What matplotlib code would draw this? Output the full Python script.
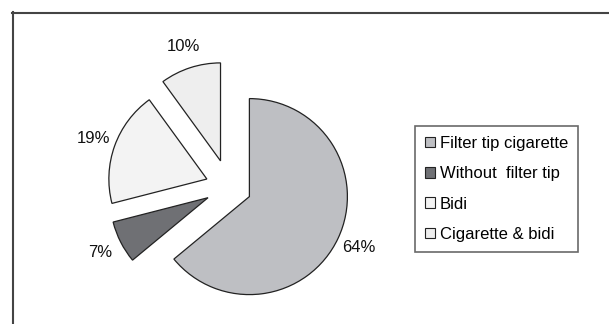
import matplotlib.pyplot as plt
from matplotlib.patches import Patch
from matplotlib.lines import Line2D

plt.rcParams['font.family'] = ['Liberation Sans', 'DejaVu Sans']

# data
categories = ['Filter tip cigarette', 'Without  filter tip', 'Bidi', 'Cigarette & bidi']
shares = [64, 7, 19, 10]
colors = ['#bebfc3', '#6f7074', '#f3f3f3', '#eeeeee']
explode = [0.23, 0.24, 0.24, 0.28]

W, H = 609, 324
fig = plt.figure(figsize=(W / 100, H / 100), dpi=100)

# axes in pixel-matched data units: pie centre at (229, 187) px, radius 98 px
cx, cy, r = 229, 187, 98
ax = fig.add_axes([0, 0, 1, 1])
wedges, texts = ax.pie(shares, colors=colors, explode=explode, startangle=90,
                       counterclock=False, labels=[f'{v}%' for v in shares],
                       labeldistance=1.23,
                       wedgeprops=dict(edgecolor='#222222', linewidth=0.9),
                       textprops=dict(fontsize=12, color='#111111'))
for t in texts:
    t.set_ha('center')
    t.set_va('center')
ax.set_xlim(-cx / r, (W - cx) / r)
ax.set_ylim((cy - H) / r, cy / r)
ax.set_aspect('auto')
ax.axis('off')

# outer chart frame (top and left edges visible)
fig.add_artist(Line2D([12 / W, 1], [1 - 12.5 / H] * 2, color='#444444', lw=1.5))
fig.add_artist(Line2D([12.5 / W] * 2, [0, 1 - 12 / H], color='#444444', lw=1.5))

handles = [Patch(facecolor=c, edgecolor='#222222', linewidth=0.8) for c in colors]
leg = fig.legend(handles, categories, loc='upper left',
                 bbox_to_anchor=(415 / W, 1 - 126 / H), bbox_transform=fig.transFigure,
                 borderaxespad=0, fancybox=False, shadow=False, frameon=True,
                 fontsize=12, handlelength=0.6, handleheight=0.6, handletextpad=0.3,
                 labelspacing=0.92, borderpad=0.6)
leg.get_frame().set_edgecolor('#444444')
leg.get_frame().set_linewidth(1.2)

fig.savefig('out.png', dpi=100)
